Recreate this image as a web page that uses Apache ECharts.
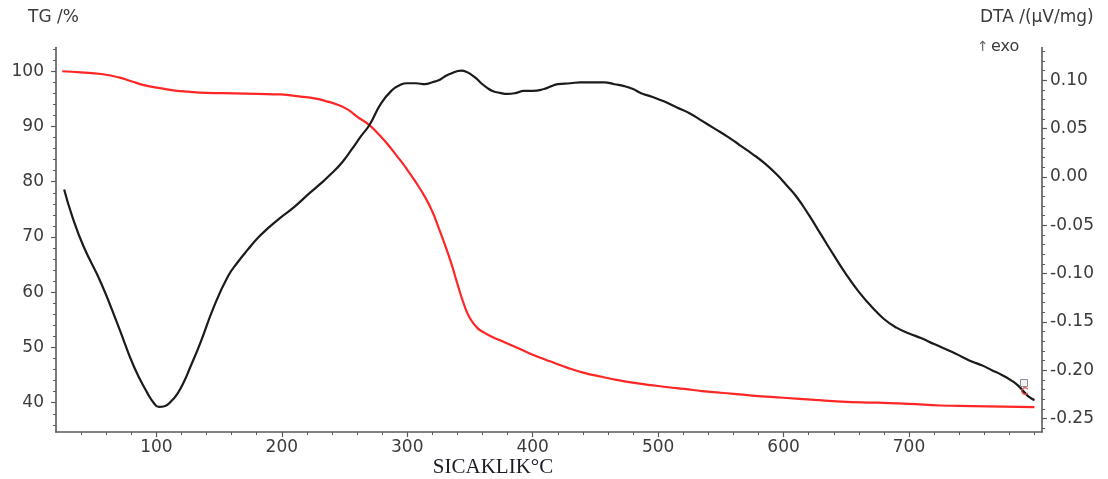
<!DOCTYPE html>
<html>
<head>
<meta charset="utf-8">
<title>TG / DTA</title>
<script src="https://cdn.jsdelivr.net/npm/echarts@6/dist/echarts.min.js"></script>
<style>
  html, body { margin: 0; padding: 0; background: #ffffff; }
  #chart { width: 1108px; height: 479px; }
</style>
</head>
<body>
<div id="chart"></div>
<script>
// Thermogravimetric mass (%) against temperature (°C)
const tgTemp = [25, 40, 56, 70, 80, 90, 104, 115, 125, 140, 162, 180, 199, 215, 226, 235, 245, 253, 260, 270,
  278, 285, 292, 299, 306, 314, 320, 324, 330, 335, 340, 345.5, 350, 356, 362, 367, 378, 388, 400, 415,
  428, 441, 455, 468, 481, 494, 508, 521, 535, 550, 575, 600, 625, 646, 675, 700, 725, 750, 775, 800];
const tgValues = [100.0, 99.8, 99.5, 98.9, 98.2, 97.5, 96.9, 96.5, 96.3, 96.1, 96.0, 95.9, 95.8, 95.4, 95.1, 94.6, 93.9, 93.0, 91.8, 90.2,
  88.4, 86.6, 84.6, 82.5, 80.2, 77.3, 74.6, 72.3, 68.6, 65.3, 61.5, 57.6, 55.3, 53.5, 52.6, 52.0, 50.9, 49.9, 48.7, 47.4,
  46.3, 45.4, 44.7, 44.1, 43.6, 43.2, 42.8, 42.5, 42.1, 41.8, 41.3, 40.9, 40.5, 40.2, 40.0, 39.8, 39.5, 39.4, 39.3, 39.2];

// Differential thermal signal (µV/mg) against temperature (°C)
const dtaTemp = [26.5, 33, 42, 56, 69, 82, 93, 98, 102, 107, 112, 117, 122, 127, 135, 146, 157, 165, 173, 181, 189, 199,
  210, 221, 230, 240, 248, 256, 263, 270, 279, 288, 294, 300, 307, 314, 320, 325, 330, 335, 343, 347,
  351, 355, 359, 364, 368, 374, 380, 387, 393, 400, 409, 415, 420, 430, 438, 448, 457, 465, 473, 480,
  486, 495, 505, 515, 525, 535, 545, 555, 565, 575, 585, 595, 602, 610, 620, 630, 640, 650, 660, 670,
  680, 690, 700, 710, 720, 734, 742, 750, 758, 766, 774, 782, 787, 792, 796, 800];
const dtaValues = [-0.013, -0.041, -0.072, -0.110, -0.152, -0.196, -0.224, -0.234, -0.238, -0.237, -0.232, -0.224, -0.212, -0.197, -0.172, -0.134, -0.103, -0.088, -0.075, -0.063, -0.053, -0.042,
  -0.031, -0.018, -0.008, 0.004, 0.015, 0.029, 0.042, 0.054, 0.076, 0.090, 0.095, 0.097, 0.097, 0.096, 0.098, 0.100, 0.104, 0.107, 0.110, 0.109,
  0.106, 0.102, 0.097, 0.092, 0.089, 0.087, 0.086, 0.087, 0.089, 0.089, 0.091, 0.094, 0.096, 0.097, 0.098, 0.098, 0.098, 0.096, 0.094, 0.091,
  0.087, 0.083, 0.078, 0.072, 0.066, 0.058, 0.050, 0.042, 0.033, 0.024, 0.014, 0.002, -0.008, -0.020, -0.039, -0.060, -0.081, -0.101, -0.119, -0.134,
  -0.147, -0.156, -0.162, -0.167, -0.173, -0.181, -0.186, -0.191, -0.195, -0.200, -0.205, -0.211, -0.216, -0.223, -0.228, -0.231];

// Axis ticks
const tempTicks = [100, 200, 300, 400, 500, 600, 700];
const tempMinorTicks = [40, 60, 80, 120, 140, 160, 180, 220, 240, 260, 280, 320, 340, 360, 380, 420, 440, 460, 480,
  520, 540, 560, 580, 620, 640, 660, 680, 720, 740, 760, 780, 800];
const tgTicks = [40, 50, 60, 70, 80, 90, 100];
const tgMinorTicks = [36, 38, 42, 44, 46, 48, 52, 54, 56, 58, 62, 64, 66, 68, 72, 74, 76, 78, 82, 84, 86, 88, 92, 94, 96, 98, 102, 104];
const dtaTicks = [-0.25, -0.20, -0.15, -0.10, -0.05, 0.00, 0.05, 0.10];
const dtaMinorTicks = [-0.26, -0.24, -0.23, -0.22, -0.21, -0.19, -0.18, -0.17, -0.16, -0.14, -0.13, -0.12, -0.11,
  -0.09, -0.08, -0.07, -0.06, -0.04, -0.03, -0.02, -0.01, 0.01, 0.02, 0.03, 0.04, 0.06, 0.07, 0.08, 0.09, 0.11, 0.12, 0.13];

const AXIS_COLOR = '#5a5a5a';
const LABEL_COLOR = '#3b3b3b';
const LABEL_FONT = 'DejaVu Sans';

const chart = echarts.init(document.getElementById('chart'), null, { renderer: 'canvas' });

function majorAxis(extra) {
  return Object.assign({
    type: 'value',
    scale: true,
    splitLine: { show: false },
    axisLine: { show: true, onZero: false, lineStyle: { color: AXIS_COLOR, width: 1.6 } },
  }, extra);
}

function minorAxis(extra) {
  return Object.assign({
    type: 'value',
    scale: true,
    splitLine: { show: false },
    axisLine: { show: false, onZero: false },
    axisLabel: { show: false },
  }, extra);
}

const TEMP_MIN = 20, TEMP_MAX = 806;
const TG_MIN = 34.7, TG_MAX = 104.3;
const DTA_MIN = -0.264, DTA_MAX = 0.134;

chart.setOption({
  animation: false,
  backgroundColor: '#ffffff',
  grid: { left: 56, right: 66, top: 47.5, bottom: 47, containLabel: false },
  xAxis: [
    majorAxis({
      position: 'bottom', min: TEMP_MIN, max: TEMP_MAX,
      axisTick: { show: true, customValues: tempTicks, length: 5, lineStyle: { color: AXIS_COLOR, width: 1.2 } },
      axisLabel: { customValues: tempTicks, margin: 7, color: LABEL_COLOR, fontFamily: LABEL_FONT, fontSize: 17 }
    }),
    minorAxis({
      position: 'bottom', min: TEMP_MIN, max: TEMP_MAX,
      axisTick: { show: true, customValues: tempMinorTicks, length: 3, lineStyle: { color: AXIS_COLOR, width: 1 } }
    })
  ],
  yAxis: [
    majorAxis({
      position: 'left', min: TG_MIN, max: TG_MAX,
      axisTick: { show: true, customValues: tgTicks, length: 5, lineStyle: { color: AXIS_COLOR, width: 1.2 } },
      axisLabel: { customValues: tgTicks, margin: 12, color: LABEL_COLOR, fontFamily: LABEL_FONT, fontSize: 17 }
    }),
    majorAxis({
      position: 'right', min: DTA_MIN, max: DTA_MAX,
      axisTick: { show: true, customValues: dtaTicks, length: 5, lineStyle: { color: AXIS_COLOR, width: 1.2 } },
      axisLabel: {
        customValues: dtaTicks, margin: 8, color: LABEL_COLOR, fontFamily: LABEL_FONT, fontSize: 17,
        formatter: v => v.toFixed(2)
      }
    }),
    minorAxis({
      position: 'left', min: TG_MIN, max: TG_MAX,
      axisTick: { show: true, customValues: tgMinorTicks, length: 3, lineStyle: { color: AXIS_COLOR, width: 1 } }
    }),
    minorAxis({
      position: 'right', min: DTA_MIN, max: DTA_MAX,
      axisTick: { show: true, customValues: dtaMinorTicks, length: 3, lineStyle: { color: AXIS_COLOR, width: 1 } }
    })
  ],
  series: [
    {
      name: 'TG', type: 'line', xAxisIndex: 0, yAxisIndex: 0,
      data: tgTemp.map((t, i) => [t, tgValues[i]]),
      showSymbol: false, smooth: 0.5,
      lineStyle: { color: '#ff2626', width: 2.2 }, itemStyle: { color: '#ff2626' },
      z: 3
    },
    {
      name: 'DTA', type: 'line', xAxisIndex: 0, yAxisIndex: 1,
      data: dtaTemp.map((t, i) => [t, dtaValues[i]]),
      showSymbol: false, smooth: 0.5,
      lineStyle: { color: '#1b1b1b', width: 2.2 }, itemStyle: { color: '#1b1b1b' },
      z: 4
    }
  ],
  graphic: [
    { type: 'text', x: 28, y: 18, style: { text: 'TG /%', fill: LABEL_COLOR, font: '17px "DejaVu Sans"', align: 'left', verticalAlign: 'middle' } },
    { type: 'text', x: 980, y: 18, style: { text: 'DTA /(µV/mg)', fill: LABEL_COLOR, font: '17px "DejaVu Sans"', align: 'left', verticalAlign: 'middle' } },
    { type: 'text', x: 977, y: 47, style: { text: '↑', fill: '#6a6a6a', font: '14px "DejaVu Sans"', align: 'left', verticalAlign: 'middle' } },
    { type: 'text', x: 991, y: 47, style: { text: 'exo', fill: LABEL_COLOR, font: '16px "DejaVu Sans"', align: 'left', verticalAlign: 'middle' } },
    { type: 'text', x: 493, y: 467, style: { text: 'SICAKLIK°C', fill: '#1c1c28', font: '21px "Liberation Serif"', align: 'center', verticalAlign: 'middle' } },
    // small end-of-run marker beside the curve ends
    { type: 'rect', shape: { x: 1020.5, y: 379.5, width: 7, height: 7 }, style: { fill: '#eef0f4', stroke: '#8a8f99', lineWidth: 1 }, z: 10 },
    { type: 'arc', shape: { cx: 1025, cy: 391, r: 3.2, startAngle: 0.6, endAngle: 5.7 }, style: { stroke: '#e05050', lineWidth: 1.2, fill: 'none' }, z: 10 }
  ]
});
</script>
</body>
</html>
